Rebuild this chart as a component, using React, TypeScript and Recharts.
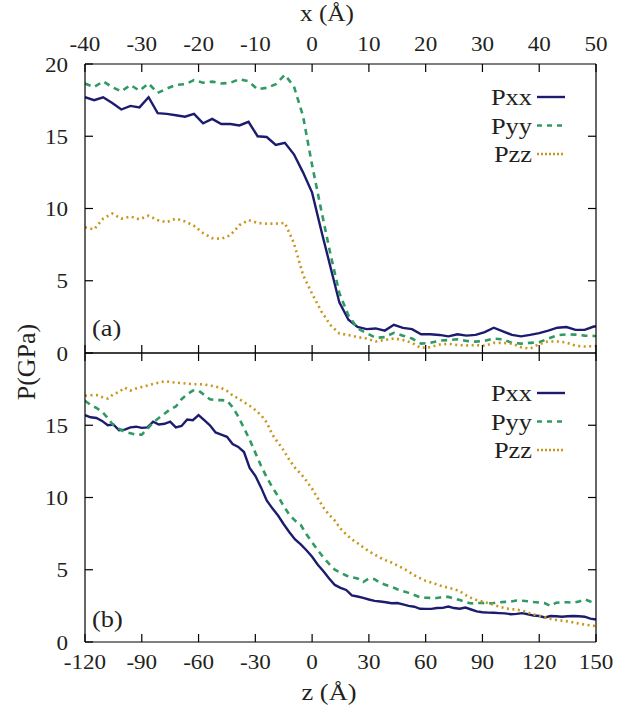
import React from 'react';
import { LineChart, Line, XAxis, YAxis } from 'recharts';

const FONT = "'Liberation Serif', 'Times New Roman', Times, serif";
const TXT = '#231f20';
const SX = 1.1;
const TICK = 8;

// ---- top panel (a): x (Å)
const topX = [-40, -38.4, -36.8, -35.2, -33.6, -32, -30.4, -28.8, -27.2, -25.6, -24, -22.4, -20.8, -19.2, -17.6, -16, -14.4, -12.8, -11.2, -9.6, -8, -6.4, -4.8, -3.2, -1.6, 0, 1.6, 3.2, 4.8, 6.4, 8, 9.6, 11.2, 12.8, 14.4, 16, 17.6, 19.2, 20.8, 22.4, 24, 25.6, 27.2, 28.8, 30.4, 32, 33.6, 35.2, 36.8, 38.4, 40, 41.6, 43.2, 44.8, 46.4, 48, 49.6, 50];
const topPxx = [17.7, 17.5, 17.7, 17.3, 16.85, 17.1, 17.0, 17.7, 16.6, 16.55, 16.45, 16.35, 16.55, 15.9, 16.2, 15.85, 15.85, 15.75, 16.0, 15.0, 14.95, 14.4, 14.55, 13.75, 12.5, 11.1, 8.5, 6.0, 3.5, 2.3, 1.8, 1.65, 1.7, 1.55, 1.95, 1.74, 1.65, 1.3, 1.3, 1.25, 1.15, 1.3, 1.2, 1.25, 1.45, 1.75, 1.5, 1.25, 1.15, 1.25, 1.38, 1.55, 1.75, 1.8, 1.6, 1.6, 1.83, 1.83];
const topPyy = [18.65, 18.4, 18.8, 18.4, 18.1, 18.55, 18.15, 18.65, 18.0, 18.3, 18.55, 18.6, 18.88, 18.7, 18.78, 18.65, 18.7, 18.95, 18.8, 18.25, 18.35, 18.6, 19.25, 18.45, 16.4, 13.0, 9.9, 6.9, 4.15, 2.6, 1.7, 1.37, 1.05, 1.1, 1.4, 1.2, 1.0, 0.65, 0.7, 0.85, 0.9, 0.95, 0.83, 0.79, 0.85, 1.0, 0.95, 0.7, 0.65, 0.7, 0.75, 1.0, 1.23, 1.28, 1.27, 1.2, 1.18, 1.18];
const topPzz = [8.7, 8.55, 9.3, 9.65, 9.3, 9.45, 9.25, 9.5, 9.2, 9.05, 9.3, 9.1, 8.8, 8.3, 7.95, 7.9, 8.15, 8.85, 9.2, 9.0, 8.95, 8.95, 9.0, 7.6, 5.4, 4.1, 2.9, 1.95, 1.35, 1.25, 1.1, 1.0, 0.8, 0.9, 1.0, 0.9, 0.7, 0.35, 0.4, 0.58, 0.64, 0.55, 0.52, 0.55, 0.5, 0.7, 0.7, 0.65, 0.4, 0.3, 0.62, 0.8, 0.8, 0.72, 0.5, 0.45, 0.48, 0.48];

// ---- bottom panel (b): z (Å)
const botX = [-120, -117, -114, -111, -108, -105, -102, -99, -96, -93, -90, -87, -84, -81, -78, -75, -72, -69, -66, -63, -60, -57, -54, -51, -48, -45, -42, -39, -36, -33, -30, -27, -24, -21, -18, -15, -12, -9, -6, -3, 0, 3, 6, 9, 12, 15, 18, 21, 24, 27, 30, 33, 36, 39, 42, 45, 48, 51, 54, 57, 60, 63, 66, 69, 72, 75, 78, 81, 84, 87, 90, 93, 96, 99, 102, 105, 108, 111, 114, 117, 120, 123, 126, 129, 132, 135, 138, 141, 144, 147, 150];
const botPxx = [15.7, 15.55, 15.5, 15.3, 15.0, 15.05, 14.65, 14.7, 14.85, 14.9, 14.82, 14.85, 15.25, 15.05, 15.1, 15.25, 14.85, 14.95, 15.4, 15.35, 15.7, 15.35, 15.0, 14.5, 14.35, 14.2, 13.7, 13.5, 13.15, 12.05, 11.5, 10.7, 9.8, 9.25, 8.75, 8.15, 7.6, 7.1, 6.75, 6.35, 5.9, 5.35, 4.9, 4.4, 3.95, 3.75, 3.6, 3.22, 3.15, 3.05, 2.94, 2.85, 2.8, 2.75, 2.68, 2.7, 2.6, 2.5, 2.44, 2.3, 2.29, 2.29, 2.35, 2.36, 2.45, 2.35, 2.3, 2.38, 2.25, 2.12, 2.06, 2.03, 2.02, 2.0, 1.98, 1.92, 1.95, 2.0, 1.92, 1.83, 1.8, 1.7, 1.8, 1.78, 1.75, 1.78, 1.8, 1.78, 1.75, 1.62, 1.56];
const botPyy = [16.7, 16.4, 16.2, 15.95, 15.5, 15.0, 14.75, 14.55, 14.45, 14.35, 14.35, 14.75, 15.2, 15.5, 15.8, 16.1, 16.3, 16.8, 17.15, 17.4, 17.4, 17.1, 16.8, 16.74, 16.74, 16.7, 16.25, 15.6, 14.8, 14.0, 13.1, 12.2, 11.4, 10.7, 10.1, 9.4, 8.8, 8.4, 8.1, 7.45, 6.9, 6.35, 5.85, 5.4, 5.0, 4.8, 4.6, 4.48, 4.4, 4.15, 4.4, 4.35, 4.08, 3.95, 3.82, 3.65, 3.52, 3.4, 3.25, 3.1, 3.06, 3.05, 3.05, 3.12, 3.12, 3.0, 2.9, 2.78, 2.67, 2.7, 2.7, 2.67, 2.7, 2.75, 2.78, 2.8, 2.87, 2.85, 2.82, 2.77, 2.73, 2.68, 2.5, 2.72, 2.75, 2.75, 2.72, 2.8, 2.95, 2.8, 2.66];
const botPzz = [17.04, 17.08, 17.09, 16.95, 16.85, 17.15, 17.3, 17.6, 17.4, 17.55, 17.65, 17.75, 17.85, 17.95, 18.05, 18.0, 17.95, 17.92, 17.88, 17.84, 17.84, 17.82, 17.75, 17.68, 17.58, 17.38, 17.07, 16.85, 16.6, 16.35, 16.05, 15.7, 15.2, 14.35, 13.8, 13.25, 12.6, 12.05, 11.65, 11.15, 10.6, 9.95, 9.3, 8.8, 8.4, 7.85, 7.45, 7.1, 6.85, 6.55, 6.28, 6.05, 5.83, 5.65, 5.5, 5.3, 5.1, 4.87, 4.62, 4.42, 4.23, 4.12, 3.98, 3.84, 3.76, 3.66, 3.52, 3.26, 3.05, 2.9, 2.8, 2.7, 2.57, 2.44, 2.33, 2.27, 2.25, 2.17, 2.04, 1.9, 1.82, 1.72, 1.6, 1.53, 1.48, 1.43, 1.35, 1.28, 1.2, 1.15, 1.1];

// ---- axis ticks
const topTicksX = [-40, -30, -20, -10, 0, 10, 20, 30, 40, 50];
const botTicksX = [-120, -90, -60, -30, 0, 30, 60, 90, 120, 150];
const yTicksTop = [0, 5, 10, 15, 20];
const yTicksBot = [0, 5, 10, 15];
const yTicksMirror = [5, 10, 15];

// ---- series meta
const seriesNames = ['Pxx', 'Pyy', 'Pzz'];
const seriesKeys = ['pxx', 'pyy', 'pzz'];
const seriesColors = ['#1c1c6e', '#2f9a62', '#c9961a'];
const seriesDash = ['', '6 5', '2 3.5'];
const legendDash = ['', '5 5', '2 2'];
const seriesWidth = [2.4, 2.6, 2.6];

const topData = topX.map((x, i) => ({ x, pxx: topPxx[i], pyy: topPyy[i], pzz: topPzz[i] }));
const botData = botX.map((x, i) => ({ x, pxx: botPxx[i], pyy: botPyy[i], pzz: botPzz[i] }));

const label = (x: number, y: number, s: any, anchor: string, size: number) => (
  <text transform={`translate(${x},${y}) scale(${SX},1)`} textAnchor={anchor as any} fontSize={size} fontFamily={FONT} fill={TXT}>
    {s}
  </text>
);

const XTopTick = (p: any) => (
  <g>
    <line x1={p.x} x2={p.x} y1={p.y} y2={p.y + TICK} stroke="#000" strokeWidth={1.2} />
    {label(p.x, p.y - 13, p.payload.value, 'middle', 21)}
  </g>
);
const XBotTick = (p: any) => (
  <g>
    <line x1={p.x} x2={p.x} y1={p.y} y2={p.y - TICK} stroke="#000" strokeWidth={1.2} />
    {label(p.x, p.y + 27, p.payload.value, 'middle', 21)}
  </g>
);
const XUpTick = (p: any) => <line x1={p.x} x2={p.x} y1={p.y} y2={p.y - TICK} stroke="#000" strokeWidth={1.2} />;
const XDownTick = (p: any) => <line x1={p.x} x2={p.x} y1={p.y} y2={p.y + TICK} stroke="#000" strokeWidth={1.2} />;
const YLeftTick = (p: any) => (
  <g>
    <line x1={p.x} x2={p.x + TICK} y1={p.y} y2={p.y} stroke="#000" strokeWidth={1.2} />
    {label(p.x - 17, p.y + 7.5, p.payload.value, 'end', 21)}
  </g>
);
const YRightTick = (p: any) => <line x1={p.x} x2={p.x - TICK} y1={p.y} y2={p.y} stroke="#000" strokeWidth={1.2} />;

const axisLine = { stroke: '#000', strokeWidth: 1.2 };

function Panel({ data, margin, xDomain, xTicks, xMain, yTicks }: any) {
  const mainTop = xMain === 'top';
  return (
    <LineChart width={628} height={709} data={data} margin={margin}>
      <XAxis xAxisId="m" dataKey="x" type="number" orientation={mainTop ? 'top' : 'bottom'} domain={xDomain} ticks={xTicks}
        allowDataOverflow interval={0} height={1} tickSize={0} tickMargin={0} tickLine={false} axisLine={axisLine}
        tick={mainTop ? XTopTick : XBotTick} />
      <XAxis xAxisId="o" dataKey="x" type="number" orientation={mainTop ? 'bottom' : 'top'} domain={xDomain} ticks={xTicks}
        allowDataOverflow interval={0} height={1} tickSize={0} tickMargin={0} tickLine={false} axisLine={axisLine}
        tick={mainTop ? XUpTick : XDownTick} />
      <YAxis yAxisId="l" type="number" orientation="left" domain={[0, 20]} ticks={yTicks} allowDataOverflow interval={0}
        width={1} tickSize={0} tickMargin={0} tickLine={false} axisLine={axisLine} tick={YLeftTick} />
      <YAxis yAxisId="r" type="number" orientation="right" domain={[0, 20]} ticks={yTicksMirror} allowDataOverflow interval={0}
        width={1} tickSize={0} tickMargin={0} tickLine={false} axisLine={axisLine} tick={YRightTick} />
      {seriesKeys.map((k, i) => (
        <Line key={k} xAxisId="m" yAxisId="l" type="linear" dataKey={k} stroke={seriesColors[i]} strokeWidth={seriesWidth[i]}
          strokeDasharray={seriesDash[i] || undefined} dot={false} activeDot={false} isAnimationActive={false} />
      ))}
    </LineChart>
  );
}

function Legend({ y0 }: { y0: number }) {
  return (
    <g>
      {seriesNames.map((n, i) => {
        const y = y0 + i * 28.5;
        return (
          <g key={n}>
            {label(532, y + 8, n, 'end', 24)}
            <line x1={537} x2={565} y1={y} y2={y} stroke={seriesColors[i]} strokeWidth={seriesWidth[i]}
              strokeDasharray={legendDash[i] || undefined} />
          </g>
        );
      })}
    </g>
  );
}

export default function App() {
  return (
    <div style={{ position: 'absolute', left: 0, top: 0, width: 628, height: 709, background: '#fff', overflow: 'hidden' }}>
      <div style={{ position: 'absolute', left: 0, top: 0 }}>
        <Panel data={topData} margin={{ top: 63, right: 31, bottom: 355, left: 84 }} xDomain={[-40, 50]} xTicks={topTicksX}
          xMain="top" yTicks={yTicksTop} />
      </div>
      <div style={{ position: 'absolute', left: 0, top: 0 }}>
        <Panel data={botData} margin={{ top: 352, right: 31, bottom: 66, left: 84 }} xDomain={[-120, 150]} xTicks={botTicksX}
          xMain="bottom" yTicks={yTicksBot} />
      </div>
      <svg width={628} height={709} style={{ position: 'absolute', left: 0, top: 0, pointerEvents: 'none' }}>
        {label(327, 21, 'x (Å)', 'middle', 23)}
        {label(329, 700, 'z (Å)', 'middle', 24)}
        <text transform="translate(35,362) rotate(-90)" textAnchor="middle" fontSize={26} fontFamily={FONT} fill={TXT}>P(GPa)</text>
        {label(92, 336, '(a)', 'start', 24)}
        {label(92, 627, '(b)', 'start', 24)}
        <Legend y0={97} />
        <Legend y0={393} />
      </svg>
    </div>
  );
}
